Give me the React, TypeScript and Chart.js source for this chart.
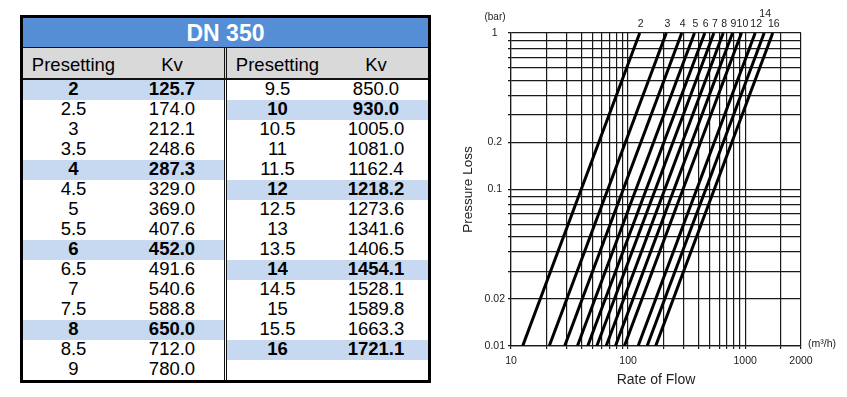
import React, { useEffect, useRef } from "react";
import { Chart, registerables } from "chart.js";

Chart.register(...registerables);

// ---------- table data ----------
const TABLE_TITLE = "DN 350";
const COL_HEADERS = ["Presetting", "Kv"];
const LEFT_PRESET = ["2", "2.5", "3", "3.5", "4", "4.5", "5", "5.5", "6", "6.5", "7", "7.5", "8", "8.5", "9"];
const LEFT_KV = ["125.7", "174.0", "212.1", "248.6", "287.3", "329.0", "369.0", "407.6", "452.0", "491.6", "540.6", "588.8", "650.0", "712.0", "780.0"];
const RIGHT_PRESET = ["9.5", "10", "10.5", "11", "11.5", "12", "12.5", "13", "13.5", "14", "14.5", "15", "15.5", "16"];
const RIGHT_KV = ["850.0", "930.0", "1005.0", "1081.0", "1162.4", "1218.2", "1273.6", "1341.6", "1406.5", "1454.1", "1528.1", "1589.8", "1663.3", "1721.1"];

// ---------- chart data ----------
const CURVE_PRESETS = ["2", "3", "4", "5", "6", "7", "8", "9", "10", "12", "14", "16"];
const CURVE_Q_AT_LOW = [12.57, 21.21, 28.73, 36.9, 45.2, 54.06, 65.0, 78.0, 93.0, 121.82, 145.41, 172.11];
const CURVE_Q_AT_HIGH = [125.7, 212.1, 287.3, 369.0, 452.0, 540.6, 650.0, 780.0, 930.0, 1218.2, 1454.1, 1721.1];
const CURVE_DP = [0.01, 1];
const RAISED_LABELS = ["14"];

const X_GRID = [10, 20, 30, 40, 50, 60, 70, 80, 90, 100, 200, 300, 400, 500, 600, 700, 800, 900, 1000, 2000, 3000];
const X_TICK_VALUES = [10, 100, 1000, 3000];
const X_TICK_LABELS = ["10", "100", "1000", "2000"];
const Y_GRID = [0.01, 0.02, 0.03, 0.04, 0.05, 0.06, 0.07, 0.08, 0.09, 0.1, 0.2, 0.3, 0.4, 0.5, 0.6, 0.7, 0.8, 0.9, 1];
const Y_TICK_VALUES = [0.01, 0.02, 0.1, 0.2, 1];
const Y_TICK_LABELS = ["0.01", "0.02", "0.1", "0.2", "1"];

const FONT = '"Liberation Sans", Arial, Helvetica, sans-serif';
const INK = "#222";
const GRID = "#1a1a1a";

function labelFor(values: number[], labels: string[], v: number): string {
  const i = values.findIndex((t) => Math.abs(t - v) / t < 1e-6);
  return i >= 0 ? labels[i] : "";
}

const annotPlugin = {
  id: "annot",
  afterDraw(chart: any) {
    const { ctx, chartArea } = chart;
    const x = chart.scales.x;
    ctx.save();
    ctx.fillStyle = INK;
    ctx.font = `10.5px ${FONT}`;
    ctx.textAlign = "center";
    ctx.textBaseline = "middle";
    CURVE_PRESETS.forEach((p, i) => {
      const px = x.getPixelForValue(CURVE_Q_AT_HIGH[i]);
      const raised = RAISED_LABELS.includes(p);
      ctx.fillText(p, px + 1, raised ? chartArea.top - 18.5 : chartArea.top - 9);
    });
    ctx.font = `10px ${FONT}`;
    ctx.fillText("(bar)", chartArea.left - 16, chartArea.top - 15.5);
    ctx.textAlign = "left";
    ctx.font = `10.5px ${FONT}`;
    ctx.fillText("(m\u00B3/h)", chartArea.right + 7, chartArea.bottom - 2);
    ctx.restore();
  },
};

function PressureChart() {
  const ref = useRef<HTMLCanvasElement | null>(null);
  useEffect(() => {
    if (!ref.current) return;
    Chart.defaults.font.family = FONT;
    const chart = new Chart(ref.current, {
      type: "line",
      data: {
        datasets: CURVE_PRESETS.map((p, i) => ({
          label: p,
          data: [
            { x: CURVE_Q_AT_LOW[i], y: CURVE_DP[0] },
            { x: CURVE_Q_AT_HIGH[i], y: CURVE_DP[1] },
          ],
          borderColor: "#000",
          borderWidth: 3,
          pointRadius: 0,
          fill: false,
          tension: 0,
        })),
      },
      options: {
        animation: false,
        responsive: false,
        devicePixelRatio: 1,
        layout: { padding: { top: 33, right: 46, left: 0, bottom: 0 } },
        plugins: { legend: { display: false }, tooltip: { enabled: false } },
        scales: {
          x: {
            type: "logarithmic",
            min: 10,
            max: 3000,
            afterBuildTicks: (s: any) => {
              s.ticks = X_GRID.map((v) => ({ value: v }));
            },
            afterFit: (s: any) => {
              s.height = 51;
            },
            ticks: {
              autoSkip: false,
              maxRotation: 0,
              minRotation: 0,
              padding: 6,
              color: INK,
              font: { size: 10.5 },
              callback: (v: any) => labelFor(X_TICK_VALUES, X_TICK_LABELS, Number(v)),
            },
            grid: { color: GRID, lineWidth: 1.2, drawTicks: true, tickLength: 3 },
            border: { color: GRID, width: 1.2 },
            title: {
              display: true,
              text: "Rate of Flow",
              color: INK,
              font: { size: 14 },
              padding: { top: 0, bottom: 8.5 },
            },
          },
          y: {
            type: "logarithmic",
            min: 0.01,
            max: 1,
            afterBuildTicks: (s: any) => {
              s.ticks = Y_GRID.map((v) => ({ value: v }));
            },
            afterFit: (s: any) => {
              s.width = 61;
            },
            ticks: {
              autoSkip: false,
              padding: 3,
              crossAlign: "center",
              color: INK,
              font: { size: 10.5 },
              callback: (v: any) => labelFor(Y_TICK_VALUES, Y_TICK_LABELS, Number(v)),
            },
            grid: { color: GRID, lineWidth: 1.2, drawTicks: true, tickLength: 3 },
            border: { color: GRID, width: 1.2 },
            title: {
              display: true,
              text: "Pressure Loss",
              color: INK,
              font: { size: 13.5 },
              padding: { top: 10, bottom: 0 },
            },
          },
        },
      } as any,
      plugins: [annotPlugin],
    });
    return () => chart.destroy();
  }, []);
  return <canvas ref={ref} width={397} height={397} style={{ width: 397, height: 397, display: "block" }} />;
}

const BLUE = "#558ED5";
const LIGHT = "#C6D9F1";
const GRAY = "#D9D9D9";

function isHighlighted(p: string) {
  const n = Number(p);
  return Number.isInteger(n) && n % 2 === 0;
}

function Cell({ text, left, width, top, height, bold, size, color }: any) {
  return (
    <div
      style={{
        position: "absolute",
        left,
        top,
        width,
        height,
        lineHeight: `${height}px`,
        textAlign: "center",
        fontSize: size,
        fontWeight: bold ? "bold" : "normal",
        color: color || "#000",
        whiteSpace: "nowrap",
      }}
    >
      {text}
    </div>
  );
}

function Table() {
  const ROW0 = 80;
  const RH = 20;
  const halves = [
    { x0: 23, x1: 224, presets: LEFT_PRESET, kvs: LEFT_KV },
    { x0: 227, x1: 428, presets: RIGHT_PRESET, kvs: RIGHT_KV },
  ];
  const items: any[] = [];
  halves.forEach((h, hi) => {
    const w = h.x1 - h.x0;
    const c1 = Math.round(w / 2);
    items.push(<Cell key={`h${hi}a`} text={COL_HEADERS[0]} left={h.x0} width={c1} top={50} height={30} size={18.5} />);
    items.push(<Cell key={`h${hi}b`} text={COL_HEADERS[1]} left={h.x0 + c1 - 2} width={w - c1} top={50} height={30} size={18.5} />);
    h.presets.forEach((p, i) => {
      const top = ROW0 + i * RH;
      const hl = isHighlighted(p);
      if (hl) {
        items.push(
          <div key={`bg${hi}${i}`} style={{ position: "absolute", left: h.x0, top, width: w, height: RH, background: LIGHT }} />
        );
      }
      items.push(<Cell key={`p${hi}${i}`} text={p} left={h.x0} width={c1} top={top - 1} height={RH} bold={hl} size={18.5} />);
      items.push(<Cell key={`k${hi}${i}`} text={h.kvs[i]} left={h.x0 + c1 - 2} width={w - c1} top={top - 1} height={RH} bold={hl} size={18.5} />);
    });
  });
  return (
    <div style={{ position: "absolute", left: 0, top: 0, width: 450, height: 397, fontFamily: FONT }}>
      <div style={{ position: "absolute", left: 23, top: 18, width: 405, height: 29, background: BLUE }} />
      <Cell text={TABLE_TITLE} left={23} width={405} top={18} height={30} bold size={23} color="#fff" />
      <div style={{ position: "absolute", left: 23, top: 47, width: 405, height: 1, background: "#111" }} />
      <div style={{ position: "absolute", left: 23, top: 48, width: 405, height: 30, background: GRAY }} />
      <div style={{ position: "absolute", left: 23, top: 78, width: 405, height: 2, background: "#111" }} />
      {items}
      <div style={{ position: "absolute", left: 224, top: 48, width: 1, height: 332, background: "#111" }} />
      <div style={{ position: "absolute", left: 226, top: 48, width: 1, height: 332, background: "#111" }} />
      <div
        style={{
          position: "absolute",
          left: 20,
          top: 15,
          width: 411,
          height: 368,
          border: "3px solid #000",
          boxSizing: "border-box",
        }}
      />
    </div>
  );
}

export default function App() {
  return (
    <div style={{ position: "absolute", left: 0, top: 0, width: 847, height: 397, background: "#fff", overflow: "hidden" }}>
      <Table />
      <div style={{ position: "absolute", left: 450, top: 0, width: 397, height: 397 }}>
        <PressureChart />
      </div>
    </div>
  );
}
